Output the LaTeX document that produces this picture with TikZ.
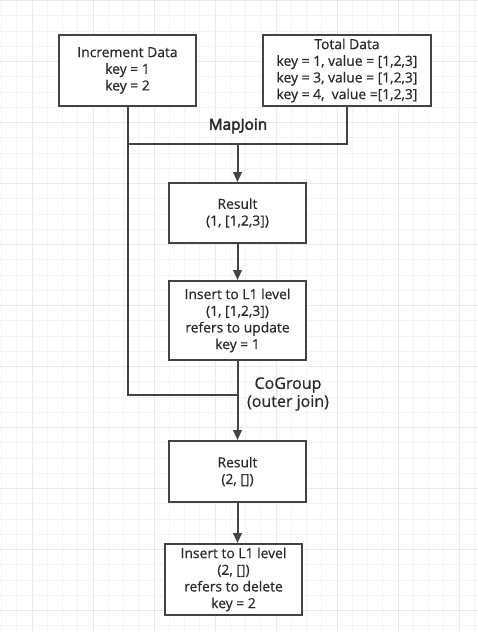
\documentclass[tikz,border=0pt]{standalone}
\usepackage{fontspec}
\setmainfont{Open Sans}
\newfontfamily\boxfont[FakeBold=0.6]{Open Sans}
\newfontfamily\semifont[FakeBold=3]{Open Sans}
\usetikzlibrary{arrows.meta}
\definecolor{gridminor}{HTML}{F4F4F4}
\definecolor{gridmajor}{HTML}{EAEAEA}
\definecolor{ink}{HTML}{434343}
\definecolor{txt}{HTML}{2B2B2B}
\tikzset{
  box/.style={draw=ink, line width=1.5pt, fill=white, align=center, text=txt,
    font=\boxfont\fontsize{10.4}{12.5}\selectfont, inner sep=0pt},
  conn/.style={draw=ink, line width=1.5pt},
  arr/.style={conn, -{Triangle[length=7.5pt,width=6.5pt]}},
  lblmj/.style={text=txt, align=center, font=\semifont\fontsize{11.5}{13.5}\selectfont, inner sep=0pt},
  lblcg/.style={text=txt, align=center, font=\boxfont\fontsize{12}{13.5}\selectfont, inner sep=0pt}
}
\begin{document}
\begin{tikzpicture}[x=0.75pt,y=-0.75pt]
\useasboundingbox (0,0) rectangle (478,632);
\fill[white] (0,0) rectangle (478,632);
% grid
\foreach \k in {0,...,31}{
  \pgfmathsetmacro{\xx}{1.7+15.25*\k}
  \pgfmathtruncatemacro{\m}{mod(\k,4)}
  \ifnum\m=2 \draw[gridmajor,line width=0.75pt] (\xx,0) -- (\xx,632);
  \else \draw[gridminor,line width=0.75pt] (\xx,0) -- (\xx,632); \fi
}
\foreach \k in {0,...,41}{
  \pgfmathsetmacro{\yy}{0.5+15.25*\k}
  \pgfmathtruncatemacro{\m}{mod(\k,4)}
  \ifnum\m=0 \draw[gridmajor,line width=0.75pt] (0,\yy) -- (478,\yy);
  \else \draw[gridminor,line width=0.75pt] (0,\yy) -- (478,\yy); \fi
}
% nodes
\node[box, minimum width=137*0.75pt, minimum height=71*0.75pt] (inc) at (127.5,70.5)
  {Increment Data\\key = 1\\key = 2};
\node[box, minimum width=168*0.75pt, minimum height=71*0.75pt] (tot) at (347,70.5)
  {Total Data\\key = 1, value = [1,2,3]\\key = 3, value = [1,2,3]\\key = 4,\ \ value =[1,2,3]};
\node[box, minimum width=137*0.75pt, minimum height=60*0.75pt] (res1) at (237.5,213)
  {Result\\(1, [1,2,3])};
\node[box, minimum width=137*0.75pt, minimum height=79*0.75pt] (ins1) at (237.5,320.5)
  {Insert to L1 level\\(1, [1,2,3])\\refers to update\\key = 1};
\node[box, minimum width=137*0.75pt, minimum height=61*0.75pt] (res2) at (237.5,471.5)
  {Result\\(2, [])};
\node[box, minimum width=137*0.75pt, minimum height=71*0.75pt] (ins2) at (233.5,579.5)
  {Insert to L1 level\\(2, [])\\refers to delete\\key = 2};
% junction coordinates
\coordinate (jl) at (127.5,144);
\coordinate (jm) at (237.5,144);
\coordinate (jb) at (127.5,395);
\coordinate (jc) at (237.5,395);
% connectors
\draw[conn] (inc.south) -- (jl) -| (tot.south);
\draw[arr] (jm) -- (res1.north);
\draw[arr] (res1.south) -- (ins1.north);
\draw[conn] (jl) -- (jb) -- (jc);
\draw[arr] (ins1.south) -- (res2.north);
\draw[arr] (res2.south) -- (res2.south |- ins2.north);
% labels
\node[lblmj] (mj) at (238,126) {MapJoin};
\node[lblcg] (cg) at (288,394) {CoGroup\\(outer join)};
\end{tikzpicture}
\end{document}
